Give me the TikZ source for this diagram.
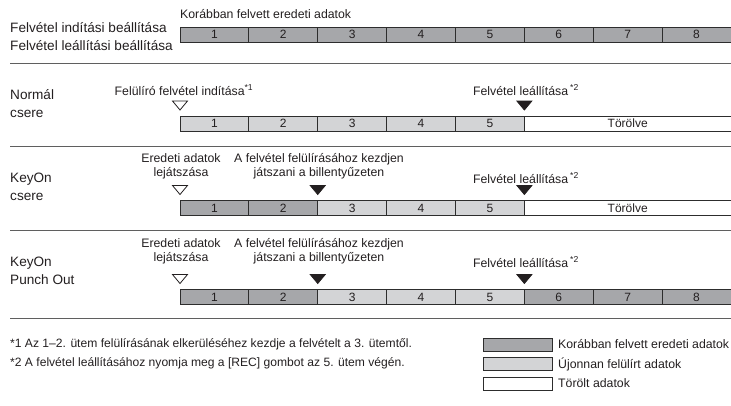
\documentclass[tikz,border=0pt]{standalone}
\usepackage{fontspec}
\setmainfont{Liberation Sans}
\usetikzlibrary{positioning}

\definecolor{olddata}{RGB}{166,167,170}
\definecolor{newdata}{RGB}{211,212,214}
\definecolor{edge}{RGB}{45,45,45}
\definecolor{ink}{RGB}{35,31,32}
\definecolor{rule}{RGB}{95,95,95}

\tikzset{
  seg/.style={draw=edge, line width=0.9pt, minimum width=68.875pt, minimum height=15pt,
    inner sep=0pt, outer sep=0pt, anchor=west, text=ink,
    font=\fontsize{12}{14}\selectfont},
  oldseg/.style={seg, fill=olddata},
  newseg/.style={seg, fill=newdata},
  gone/.style={seg, fill=white, minimum width=206.625pt},
  heading/.style={anchor=west, inner sep=0pt, text=ink, align=left,
    font=\fontsize{13.6}{18}\selectfont},
  note/.style={inner sep=0pt, text=ink, align=center,
    font=\fontsize{12.3}{14}\selectfont},
  foot/.style={anchor=west, inner sep=0pt, text=ink,
    font=\fontsize{12.1}{14}\selectfont},
  keybox/.style={seg, minimum width=69pt, minimum height=13pt},
  keytext/.style={anchor=west, inner sep=0pt, text=ink,
    font=\fontsize{12.3}{14}\selectfont},
  divider/.style={draw=rule, line width=1pt},
  openmark/.style={draw=ink, line width=0.8pt, fill=white, line join=miter},
  solidmark/.style={draw=ink, line width=0.8pt, fill=ink, line join=miter},
}

% marker triangle with its tip just above a segment corner
\newcommand\cue[2]{\path[#1] (#2) ++(0,-6) -- ++(-7.5,-9) -- ++(15,0) -- cycle;}

\begin{document}
\begin{tikzpicture}[x=1pt, y=-1pt]
\useasboundingbox (0,0) rectangle (731,405);

% ---------- settings row ----------
\node[heading] (setup) at (10,37) {Felvétel indítási beállítása\\Felvétel leállítási beállítása};
\node[note, anchor=west] (origcap) at (180,14.5) {Korábban felvett eredeti adatok};
\foreach \i in {1,...,8}
  \node[oldseg] (a\i) at ({180+(\i-1)*68.875},34.5) {\i};
\coordinate (d1l) at (10,63);  \coordinate (d1r) at (731,63);
\draw[divider] (d1l) -- (d1r);

% ---------- normal replace ----------
\node[heading, align=left] (normal) at (10,104) {Normál\\csere};
\foreach \i in {1,...,5}
  \node[newseg] (b\i) at ({180+(\i-1)*68.875},123.5) {\i};
\node[gone] (bx) at (b5.east) {Törölve};
\cue{openmark}{b1.north west}
\cue{solidmark}{b5.north east}
\node[note] (bstart) at (184,90) {Felülíró felvétel indítása\textsuperscript{*1}};
\node[note] (bstop) at (526,90) {Felvétel leállítása\,\textsuperscript{*2}};
\coordinate (d2l) at (10,146);  \coordinate (d2r) at (731,146);
\draw[divider] (d2l) -- (d2r);

% ---------- KeyOn replace ----------
\node[heading] (keyon) at (10,187) {KeyOn\\csere};
\foreach \i in {1,2}
  \node[oldseg] (c\i) at ({180+(\i-1)*68.875},208) {\i};
\foreach \i in {3,4,5}
  \node[newseg] (c\i) at ({180+(\i-1)*68.875},208) {\i};
\node[gone] (cx) at (c5.east) {Törölve};
\cue{openmark}{c1.north west}
\cue{solidmark}{c2.north east}
\cue{solidmark}{c5.north east}
\node[note] (cplay) at (181,166) {Eredeti adatok\\lejátszása};
\node[note] (cplayin) at (319,166) {A felvétel felülírásához kezdjen\\játszani a billentyűzeten};
\node[note] (cstop) at (526,178) {Felvétel leállítása\,\textsuperscript{*2}};
\coordinate (d3l) at (10,230);  \coordinate (d3r) at (731,230);
\draw[divider] (d3l) -- (d3r);

% ---------- KeyOn punch out ----------
\node[heading] (punch) at (10,270.5) {KeyOn\\Punch Out};
\foreach \i in {1,2}
  \node[oldseg] (e\i) at ({180+(\i-1)*68.875},297) {\i};
\foreach \i in {3,4,5}
  \node[newseg] (e\i) at ({180+(\i-1)*68.875},297) {\i};
\foreach \i in {6,7,8}
  \node[oldseg] (e\i) at ({180+(\i-1)*68.875},297) {\i};
\cue{openmark}{e1.north west}
\cue{solidmark}{e2.north east}
\cue{solidmark}{e5.north east}
\node[note] (eplay) at (181,251) {Eredeti adatok\\lejátszása};
\node[note] (eplayin) at (319,251) {A felvétel felülírásához kezdjen\\játszani a billentyűzeten};
\node[note] (estop) at (526,262) {Felvétel leállítása\,\textsuperscript{*2}};
\coordinate (d4l) at (10,318);  \coordinate (d4r) at (731,318);
\draw[divider] (d4l) -- (d4r);

% ---------- notes ----------
\node[foot] (fn1) at (10,344.5) {*1 Az 1–2. ütem felülírásának elkerüléséhez kezdje a felvételt a 3. ütemtől.};
\node[foot] (fn2) at (10,363) {*2 A felvétel leállításához nyomja meg a [REC] gombot az 5. ütem végén.};

% ---------- key ----------
\node[keybox, fill=olddata] (k1) at (483,344.5) {};
\node[keybox, fill=newdata] (k2) at (483,364) {};
\node[keybox, fill=white] (k3) at (483,383.5) {};
\node[keytext] (k1t) at ([xshift=6pt]k1.east) {Korábban felvett eredeti adatok};
\node[keytext] (k2t) at ([xshift=6pt]k2.east) {Újonnan felülírt adatok};
\node[keytext] (k3t) at ([xshift=6pt]k3.east) {Törölt adatok};
\end{tikzpicture}
\end{document}
